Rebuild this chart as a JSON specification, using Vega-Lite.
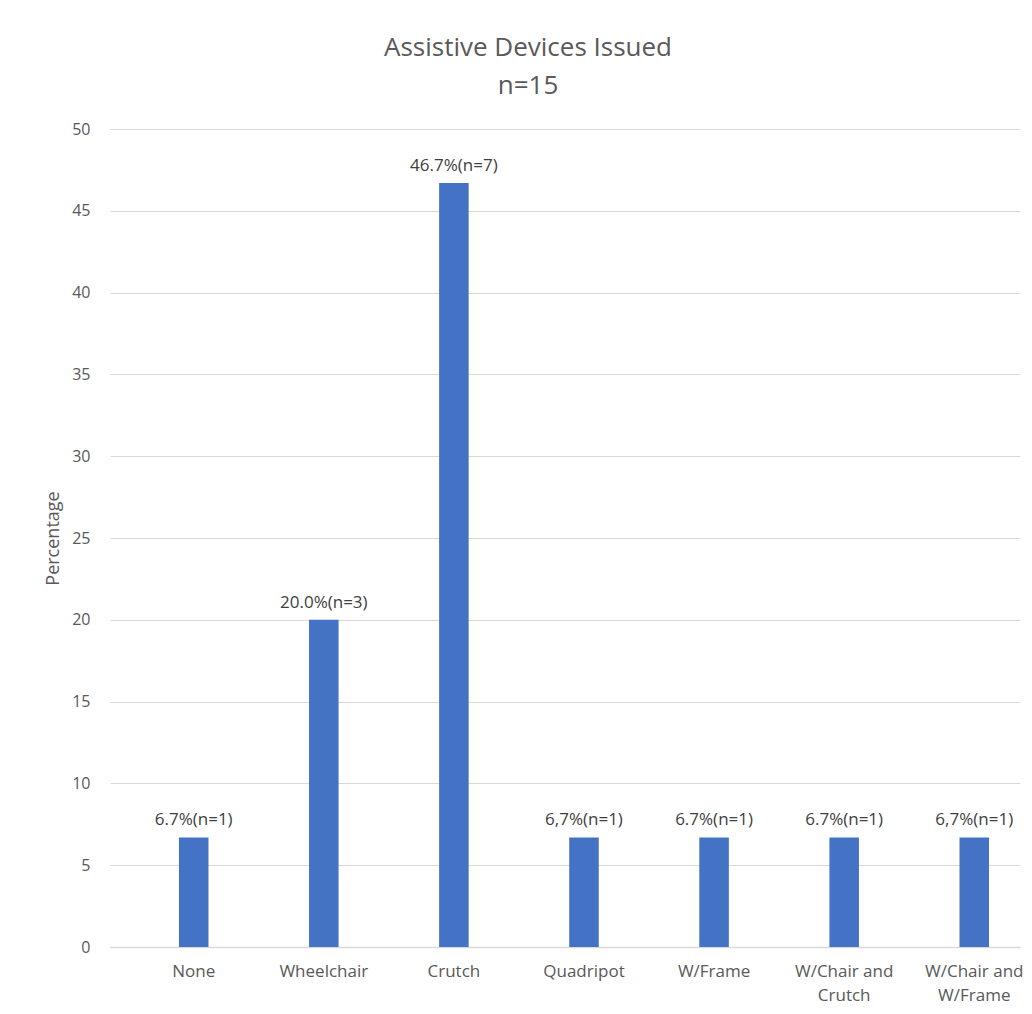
{
  "$schema": "https://vega.github.io/schema/vega-lite/v6.json",
  "autosize": {"type": "none"},
  "padding": {"left": 110, "top": 129, "right": 12, "bottom": 67},
  "width": 910,
  "height": 818,
  "background": "white",
  "title": {
    "text": ["Assistive Devices Issued", "n=15"],
    "fontSize": 26,
    "lineHeight": 38,
    "font": "Open Sans",
    "fontWeight": "normal",
    "color": "#595959",
    "anchor": "middle",
    "dx": -37,
    "offset": 22
  },
  "data": {
    "values": [
      {"device": "None", "pct": 6.7, "label": "6.7%(n=1)"},
      {"device": "Wheelchair", "pct": 20.0, "label": "20.0%(n=3)"},
      {"device": "Crutch", "pct": 46.7, "label": "46.7%(n=7)"},
      {"device": "Quadripot", "pct": 6.7, "label": "6,7%(n=1)"},
      {"device": "W/Frame", "pct": 6.7, "label": "6.7%(n=1)"},
      {"device": "W/Chair and Crutch", "pct": 6.7, "label": "6.7%(n=1)"},
      {"device": "W/Chair and W/Frame", "pct": 6.7, "label": "6,7%(n=1)"}
    ]
  },
  "encoding": {
    "x": {
      "field": "device",
      "type": "nominal",
      "sort": null,
      "scale": {"paddingInner": 0.773, "paddingOuter": 0.384, "align": 0.69},
      "axis": {
        "title": null,
        "labelAngle": 0,
        "labelFont": "Open Sans",
        "labelFontSize": 17,
        "labelColor": "#595959",
        "labelPadding": 16,
        "labelLineHeight": 24,
        "labelExpr": "indexof(datum.label, ' and ') > 0 ? [substring(datum.label, 0, indexof(datum.label, ' and ') + 4), substring(datum.label, indexof(datum.label, ' and ') + 5)] : datum.label",
        "ticks": false,
        "domain": true,
        "domainColor": "#D9D9D9",
        "domainWidth": 1.5,
        "grid": false
      }
    },
    "y": {
      "field": "pct",
      "type": "quantitative",
      "scale": {"domain": [0, 50], "nice": false},
      "axis": {
        "title": "Percentage",
        "titleFont": "Open Sans",
        "titleFontSize": 18,
        "titleFontWeight": "normal",
        "titleColor": "#595959",
        "titlePadding": 9,
        "values": [0, 5, 10, 15, 20, 25, 30, 35, 40, 45, 50],
        "labelFont": "Open Sans",
        "labelFontSize": 16,
        "labelColor": "#595959",
        "labelPadding": 20,
        "ticks": false,
        "domain": false,
        "grid": true,
        "gridColor": "#D9D9D9",
        "gridWidth": 1.2
      }
    }
  },
  "layer": [
    {"mark": {"type": "bar", "color": "#4472C4"}},
    {
      "mark": {
        "type": "text",
        "baseline": "bottom",
        "dy": -8,
        "font": "Open Sans",
        "fontSize": 17,
        "color": "#404040"
      },
      "encoding": {"text": {"field": "label"}}
    }
  ],
  "config": {"view": {"stroke": null}}
}
